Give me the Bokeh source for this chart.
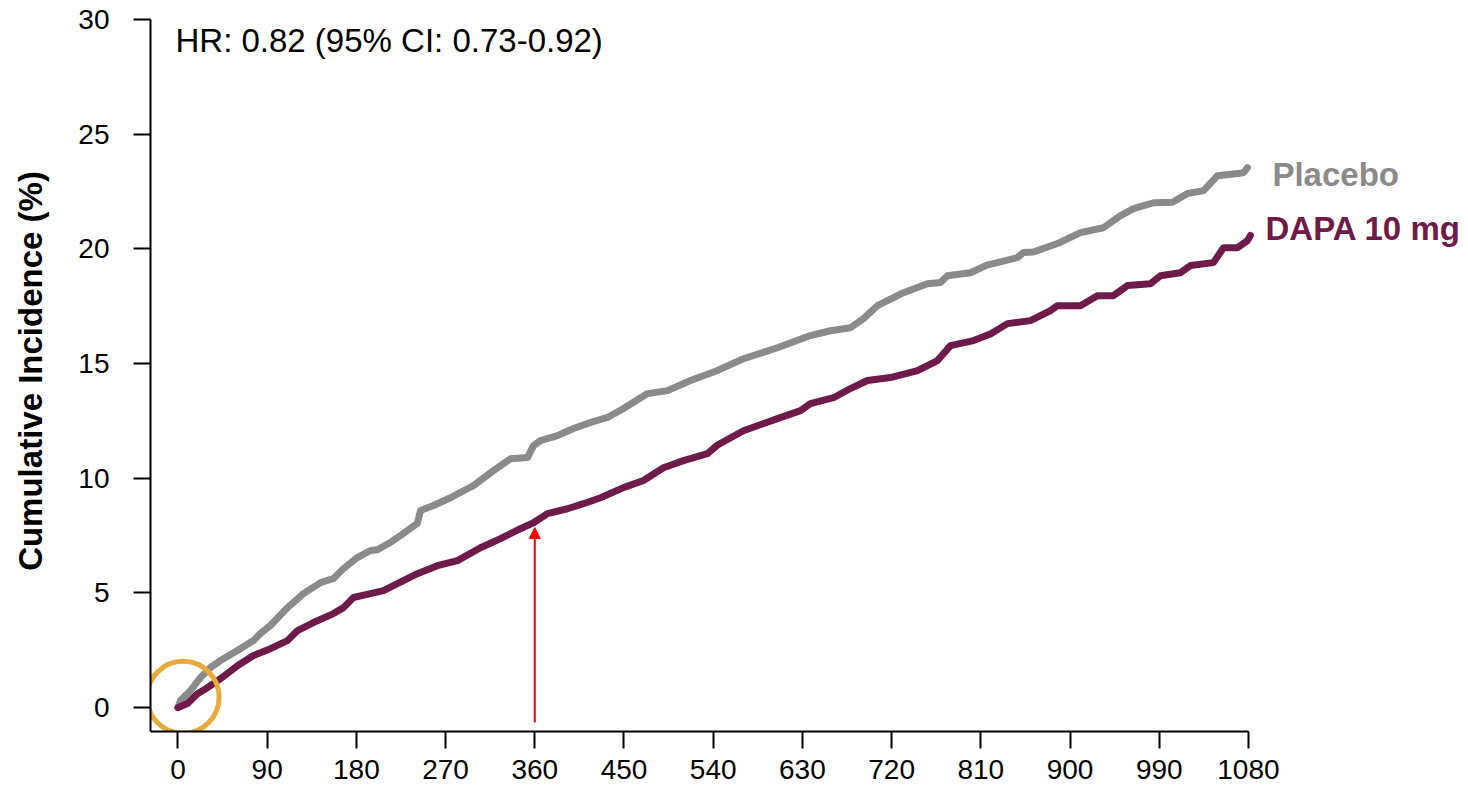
from bokeh.plotting import figure
from bokeh.models import Range1d, FixedTicker, Arrow, NormalHead
from bokeh.core.properties import value
from bokeh.embed import file_html
from bokeh.resources import INLINE

# Cumulative incidence curves (days, %)
placebo_days = [0, 2.5, 12.6, 22.7, 32.8, 42.9, 60, 76.2, 83.2, 93.3, 110.5, 126.6, 143.8,
                156.9, 167, 181, 194.2, 201.2, 214.3, 227.4, 241.5, 244.7, 257.8, 274.9,
                298.1, 318.3, 335.4, 352.6, 358.7, 365.7, 382.9, 399, 416.2, 433.3, 449.5,
                473.7, 493.9, 517.1, 544.4, 570.5, 604.8, 638.1, 658.3, 678.4, 691.6,
                705.6, 731.9, 756.1, 769.2, 776.3, 799.5, 816.7, 826.7, 846.9, 852.9, 863,
                887.3, 910.5, 933.7, 950.9, 964, 984.2, 1003.4, 1018.5, 1034.7, 1048.8,
                1069, 1075, 1079]
placebo_pct = [0, 0.31, 0.74, 1.31, 1.75, 2.05, 2.49, 2.93, 3.23, 3.58, 4.36, 4.97, 5.45,
               5.63, 6.06, 6.54, 6.85, 6.88, 7.20, 7.59, 8.03, 8.59, 8.81, 9.15,
               9.68, 10.33, 10.85, 10.90, 11.42, 11.64, 11.86, 12.17, 12.43, 12.65, 13.04,
               13.69, 13.82, 14.26, 14.70, 15.21, 15.69, 16.22, 16.43, 16.56, 16.96,
               17.52, 18.09, 18.48, 18.53, 18.83, 18.96, 19.30, 19.40, 19.62, 19.84, 19.86,
               20.23, 20.71, 20.92, 21.45, 21.75, 22.01, 22.03, 22.41, 22.54, 23.19,
               23.28, 23.32, 23.54]

dapa_days = [0, 9.6, 19.7, 29.8, 42.9, 60, 76.2, 93.3, 110.5, 120.6, 136.7, 156.9, 167,
             177.1, 194.2, 207.3, 221.4, 241.5, 261.7, 282, 305.2, 325.4, 345.5, 358.7,
             372.8, 393, 409.1, 426.3, 449.5, 469.6, 489.8, 510, 534.2, 544.4, 570.5,
             604.8, 628.1, 638.1, 661.4, 678.4, 695.6, 718.8, 746.1, 766.3, 779.4, 802.6,
             819.7, 836.9, 860.1, 880.3, 887.3, 910.5, 927.6, 943.8, 957.9, 981.1, 991.2,
             1011.4, 1021.5, 1044.7, 1054.8, 1069, 1079, 1082]
dapa_pct = [0, 0.18, 0.61, 0.87, 1.26, 1.83, 2.27, 2.57, 2.92, 3.36, 3.71, 4.10, 4.36,
            4.80, 4.97, 5.10, 5.41, 5.84, 6.19, 6.41, 6.97, 7.37, 7.80, 8.06,
            8.46, 8.67, 8.89, 9.15, 9.59, 9.90, 10.46, 10.77, 11.07, 11.45, 12.07,
            12.60, 12.95, 13.25, 13.51, 13.91, 14.26, 14.39, 14.69, 15.13, 15.78, 16.00,
            16.29, 16.74, 16.87, 17.31, 17.52, 17.52, 17.96, 17.96, 18.40, 18.48, 18.83,
            18.96, 19.27, 19.40, 20.05, 20.05, 20.36, 20.58]

x_ticks = [0, 90, 180, 270, 360, 450, 540, 630, 720, 810, 900, 990, 1080]
y_ticks = [0, 5, 10, 15, 20, 25, 30]

hr_text = "HR: 0.82 (95% CI: 0.73-0.92)"
series_labels = ["Placebo", "DAPA 10 mg"]

GRAY = "#8a8a8a"
PLUM = "#6e1b4a"
FONT = "Liberation Sans"

p = figure(width=1468, height=786, output_backend="svg", toolbar_location=None,
           x_range=Range1d(-27.7, 1302), y_range=Range1d(-1.04, 30.39),
           min_border_left=150, min_border_right=0, min_border_top=10,
           min_border_bottom=55)
p.outline_line_color = None
p.grid.visible = False
p.background_fill_color = "white"
p.border_fill_color = "white"

for ax in (p.xaxis[0], p.yaxis[0]):
    ax.axis_line_width = 2
    ax.axis_line_color = "black"
    ax.major_tick_line_width = 2
    ax.major_tick_line_color = "black"
    ax.major_tick_in = 0
    ax.major_tick_out = 17
    ax.minor_tick_line_color = None
    ax.major_label_text_font = FONT
    ax.major_label_text_font_size = "28px"
    ax.major_label_text_color = "black"

p.xaxis.ticker = FixedTicker(ticks=x_ticks)
p.yaxis.ticker = FixedTicker(ticks=y_ticks)
p.xaxis.bounds = (-27.7, 1080)
p.yaxis.bounds = (-1.04, 30)
p.xaxis.major_label_standoff = 11
p.yaxis.major_label_standoff = 24

p.yaxis.axis_label = "Cumulative Incidence (%)"
p.yaxis.axis_label_text_font = FONT
p.yaxis.axis_label_text_font_size = "33px"
p.yaxis.axis_label_text_font_style = "bold"
p.yaxis.axis_label_text_color = "black"
p.yaxis.axis_label_standoff = 26

p.line(placebo_days, placebo_pct, line_color=GRAY, line_width=7,
       line_join="round", line_cap="round")
p.line(dapa_days, dapa_pct, line_color=PLUM, line_width=7,
       line_join="round", line_cap="round")

# highlight ring at the origin
p.scatter([5.2], [0.45], marker="circle", size=72, fill_color=None,
          line_color="#e6ab3c", line_width=5)

# marker arrow at day 360
p.add_layout(Arrow(end=NormalHead(size=11, fill_color="red", line_color="red", line_width=1),
                   x_start=360, y_start=-0.65, x_end=360, y_end=7.85,
                   line_color="red", line_width=2))

p.text([-2.5], [29.08], text=[hr_text], text_font=value(FONT), text_font_size="33px",
       text_color="black", text_baseline="alphabetic", text_align="left")
p.text([1104.2], [23.22], text=[series_labels[0]], text_font=value(FONT),
       text_font_size="33px", text_font_style="bold", text_color=GRAY,
       text_baseline="alphabetic", text_align="left")
p.text([1097.2], [20.9], text=[series_labels[1]], text_font=value(FONT),
       text_font_size="33px", text_font_style="bold", text_color=PLUM,
       text_baseline="alphabetic", text_align="left")

open("out.html", "w").write(file_html(p, INLINE))
